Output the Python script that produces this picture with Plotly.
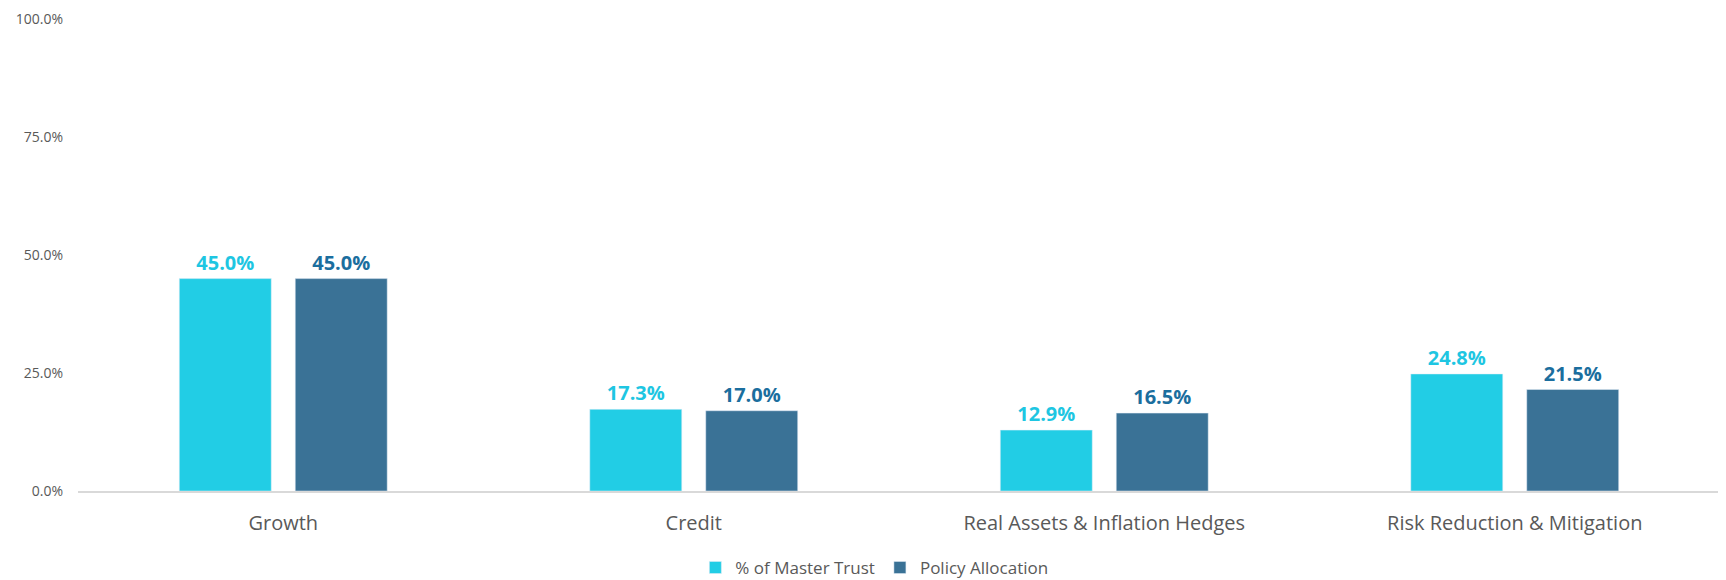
import plotly.graph_objects as go

categories = ["Growth", "Credit", "Real Assets & Inflation Hedges", "Risk Reduction & Mitigation"]
master_trust = [45.0, 17.3, 12.9, 24.8]
policy_allocation = [45.0, 17.0, 16.5, 21.5]
y_ticks = [0, 25, 50, 75, 100]
y_tick_labels = ["0.0%", "25.0%", "50.0%", "75.0%", "100.0%"]

font_family = "Open Sans, Noto Sans, sans-serif"
gray = "#595959"

fig = go.Figure()
fig.add_trace(go.Bar(
    x=categories, y=master_trust, name="% of Master Trust",
    marker=dict(color="#22CDE5"),
    texttemplate="%{y:.1f}%", textposition="outside", cliponaxis=False,
    textfont=dict(color="#1EC6E2", size=20, family=font_family, weight="bold"),
))
fig.add_trace(go.Bar(
    x=categories, y=policy_allocation, name="Policy Allocation",
    marker=dict(color="#3A7296"),
    texttemplate="%{y:.1f}%", textposition="outside", cliponaxis=False,
    textfont=dict(color="#1B6E9E", size=20, family=font_family, weight="bold"),
))

# page body has an 8px margin, so the figure is sized/offset to fit the window
fig.update_layout(
    width=1718, height=572,
    margin=dict(l=70, r=6, t=11, b=89, autoexpand=False),
    plot_bgcolor="white", paper_bgcolor="white",
    font=dict(family=font_family, color=gray),
    barmode="group", bargap=0.435, bargroupgap=0.207,
    showlegend=True,
    legend=dict(orientation="h", x=0.485, xanchor="center", y=-0.163, yanchor="middle",
                font=dict(size=17, color=gray), itemwidth=30, traceorder="normal"),
    xaxis=dict(showline=True, linecolor="#D9D9D9", linewidth=2, ticks="",
               tickfont=dict(size=20, color=gray), showgrid=False,
               ticklabelstandoff=13, automargin=False),
    yaxis=dict(range=[0, 100], tickmode="array", tickvals=y_ticks, ticktext=y_tick_labels,
               showgrid=False, zeroline=False, showline=False, ticklabeloverflow="allow",
               tickfont=dict(size=14, color=gray), ticklabelstandoff=14, automargin=False),
)

fig.write_html("out.html")
